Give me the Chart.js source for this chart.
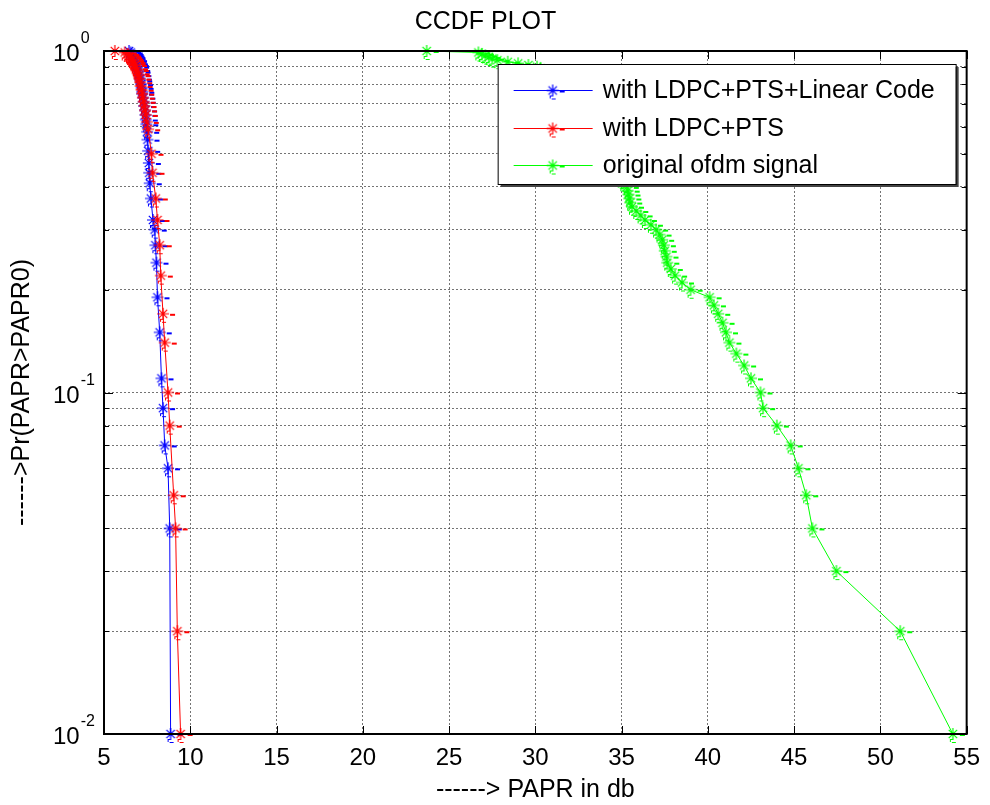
<!DOCTYPE html>
<html>
<head>
<meta charset="utf-8">
<script src="https://cdn.jsdelivr.net/npm/chart.js@4.4.0/dist/chart.umd.min.js"></script>
<style>
  html, body { margin: 0; padding: 0; background: #fff; }
  #c { display: block; }
</style>
</head>
<body>
<canvas id="c" width="990" height="805"></canvas>
<script>
const FONT = "'Liberation Sans', Arial, Helvetica, sans-serif";

const xTicks = [5, 10, 15, 20, 25, 30, 35, 40, 45, 50, 55];
const yTicks = [0.01, 0.02, 0.03, 0.04, 0.05, 0.06, 0.07, 0.08, 0.09,
                0.1, 0.2, 0.3, 0.4, 0.5, 0.6, 0.7, 0.8, 0.9, 1];
const yMajor = [1, 0.1, 0.01];
const yMajorExp = ['0', '-1', '-2'];

const labels = ['with LDPC+PTS+Linear Code', 'with LDPC+PTS', 'original ofdm signal'];

// with LDPC+PTS+Linear Code
const blueX = [6.45, 6.55, 6.60, 6.65, 6.70, 6.72, 6.80, 6.78, 6.85, 6.90,
               6.92, 6.98, 7.00, 7.05, 7.08, 7.10, 7.15, 7.18, 7.22, 7.20,
               7.28, 7.30, 7.32, 7.38, 7.40, 7.42, 7.45, 7.50, 7.52, 7.56,
               7.60, 7.62, 7.65, 7.72, 7.84, 7.94, 7.98, 8.04, 8.10, 8.23,
               8.33, 8.42, 8.52, 8.71, 8.81, 8.86];
const blueY = [1.00, 0.99, 0.98, 0.97, 0.96, 0.95, 0.94, 0.93, 0.92, 0.91,
               0.90, 0.88, 0.87, 0.85, 0.83, 0.82, 0.80, 0.78, 0.76, 0.75,
               0.73, 0.71, 0.69, 0.67, 0.65, 0.63, 0.61, 0.58, 0.55, 0.51,
               0.47, 0.44, 0.41, 0.37, 0.32, 0.30, 0.27, 0.24, 0.19, 0.15,
               0.11, 0.09, 0.07, 0.06, 0.04, 0.01];

// with LDPC+PTS
const redX = [5.63, 6.20, 6.35, 6.45, 6.50, 6.58, 6.62, 6.70, 6.72, 6.80,
              6.85, 6.90, 6.95, 7.00, 7.05, 7.10, 7.12, 7.18, 7.22, 7.25,
              7.30, 7.35, 7.38, 7.42, 7.48, 7.56, 7.75, 7.81, 8.00, 8.10,
              8.23, 8.29, 8.42, 8.52, 8.71, 8.81, 9.04, 9.15, 9.25, 9.44];
const redY = [1.00, 0.99, 0.98, 0.97, 0.96, 0.95, 0.94, 0.93, 0.92, 0.91,
              0.89, 0.88, 0.86, 0.85, 0.83, 0.81, 0.79, 0.77, 0.75, 0.73,
              0.71, 0.69, 0.67, 0.65, 0.62, 0.59, 0.50, 0.44, 0.37, 0.32,
              0.27, 0.22, 0.17, 0.14, 0.10, 0.08, 0.05, 0.04, 0.02, 0.01];

// original ofdm signal
const greenX = [23.7, 26.7, 26.9, 27.1, 27.3, 27.5, 27.8, 28.4, 29.0, 29.6,
                30.1, 30.3, 30.4, 30.6, 30.7, 30.8, 30.9, 31.0, 31.1, 31.2,
                31.3, 31.4, 31.5, 31.6, 31.7, 31.8, 31.9, 32.0, 32.1, 32.2,
                32.3, 32.4, 32.5, 32.6, 32.7, 32.75, 32.85, 32.95, 33.0, 33.1,
                33.2, 33.3, 33.35, 33.45, 33.55, 33.6, 33.7, 33.8, 33.85, 33.95,
                34.05, 34.1, 34.2, 34.3, 34.4, 34.5, 34.65, 34.8, 34.95, 35.1,
                35.3, 35.35, 35.4, 35.45, 35.5, 35.6, 35.85, 36.1, 36.35, 36.7,
                37.0, 37.2, 37.35, 37.45, 37.5, 37.6, 37.65, 37.85, 38.1, 38.5,
                39.0, 40.1, 40.35, 40.6, 40.85, 41.05, 41.25, 41.65, 42.1, 42.5,
                43.05, 43.2, 44.0, 44.8, 45.25, 45.7, 46.06, 47.45, 51.15, 54.2];
const greenY = [1.00, 0.99, 0.98, 0.97, 0.96, 0.95, 0.94, 0.93, 0.92, 0.91,
                0.90, 0.89, 0.88, 0.87, 0.86, 0.85, 0.84, 0.83, 0.82, 0.81,
                0.80, 0.79, 0.78, 0.77, 0.76, 0.75, 0.74, 0.73, 0.72, 0.71,
                0.70, 0.69, 0.68, 0.67, 0.66, 0.65, 0.64, 0.63, 0.62, 0.61,
                0.60, 0.59, 0.58, 0.57, 0.56, 0.55, 0.54, 0.53, 0.52, 0.51,
                0.50, 0.49, 0.48, 0.47, 0.46, 0.45, 0.44, 0.43, 0.42, 0.41,
                0.40, 0.39, 0.38, 0.37, 0.36, 0.35, 0.34, 0.33, 0.32, 0.31,
                0.30, 0.29, 0.28, 0.27, 0.26, 0.25, 0.24, 0.23, 0.22, 0.21,
                0.20, 0.19, 0.18, 0.17, 0.16, 0.15, 0.14, 0.13, 0.12, 0.11,
                0.10, 0.09, 0.08, 0.07, 0.06, 0.05, 0.04, 0.03, 0.02, 0.01];

// matlab style '*' marker with the little dash artefacts
function makeMarker(color) {
    const c = document.createElement('canvas');
    c.width = 30; c.height = 30;
    const g = c.getContext('2d');
    g.strokeStyle = color;
    g.lineWidth = 1.2;
    g.translate(15, 15);
    g.beginPath();
    g.moveTo(0, -6); g.lineTo(0, 6);
    g.moveTo(-6, 0); g.lineTo(6, 0);
    g.moveTo(-4.2, -4.2); g.lineTo(4.2, 4.2);
    g.moveTo(-4.2, 4.2); g.lineTo(4.2, -4.2);
    g.stroke();
    g.fillStyle = color;
    g.fillRect(7, 0, 5, 2);
    g.fillRect(-3, 5, 3, 1);
    g.fillRect(-3, 5, 1, 3);
    g.fillRect(-1, 8, 4, 1);
    return c;
}

function series(xs, ys) {
    return xs.map((x, i) => ({ x, y: ys[i] }));
}

const colors = ['#0000ff', '#ff0000', '#00ff00'];
const markers = colors.map(makeMarker);

const frame = {
    id: 'frame',
    afterDraw(chart) {
        const { ctx, chartArea: a, scales: { x, y } } = chart;
        ctx.save();

        // inward ticks on all four sides
        ctx.strokeStyle = '#000';
        ctx.lineWidth = 1;
        ctx.beginPath();
        xTicks.forEach(v => {
            const px = Math.round(x.getPixelForValue(v)) + 0.5;
            ctx.moveTo(px, a.top); ctx.lineTo(px, a.top + 8);
            ctx.moveTo(px, a.bottom); ctx.lineTo(px, a.bottom - 8);
        });
        yTicks.forEach(v => {
            const len = yMajor.includes(v) ? 9 : 5;
            const py = Math.round(y.getPixelForValue(v)) + 0.5;
            ctx.moveTo(a.left, py); ctx.lineTo(a.left + len, py);
            ctx.moveTo(a.right, py); ctx.lineTo(a.right - len, py);
        });
        ctx.stroke();

        ctx.lineWidth = 2;
        ctx.strokeRect(a.left, a.top, a.right - a.left, a.bottom - a.top);

        // 10^k labels
        ctx.fillStyle = '#000';
        ctx.textAlign = 'left';
        ctx.textBaseline = 'alphabetic';
        yMajor.forEach((v, i) => {
            const py = y.getPixelForValue(v);
            ctx.font = '24px ' + FONT;
            ctx.fillText('10', 53, py + 10);
            const w = ctx.measureText('10').width;
            ctx.font = '16px ' + FONT;
            ctx.fillText(yMajorExp[i], 53 + w + 1, py - 8);
        });

        // legend box
        const bw = 458, bh = 120;
        const bx = a.right - 11 - bw, by = a.top + 13;
        ctx.fillStyle = '#444';
        ctx.fillRect(bx + 3, by + 3, bw, bh);
        ctx.fillStyle = '#fff';
        ctx.fillRect(bx, by, bw, bh);
        ctx.lineWidth = 1;
        ctx.strokeStyle = '#000';
        ctx.strokeRect(bx + 0.5, by + 0.5, bw, bh);

        ctx.font = '25px ' + FONT;
        ctx.textBaseline = 'middle';
        chart.data.datasets.forEach((ds, i) => {
            const ry = Math.round(by + 26 + i * 37.5) + 0.5;
            ctx.strokeStyle = ds.borderColor;
            ctx.beginPath();
            ctx.moveTo(bx + 16, ry); ctx.lineTo(bx + 95, ry);
            ctx.stroke();
            const m = markers[i];
            ctx.drawImage(m, bx + 55 - m.width / 2, ry - m.height / 2);
            ctx.fillStyle = '#000';
            ctx.fillText(ds.label, bx + 105, ry + 1);
        });

        ctx.restore();
    }
};

const gridStyle = { color: 'rgba(70,70,70,0.75)', lineWidth: 1, drawTicks: false };

new Chart(document.getElementById('c'), {
    type: 'line',
    data: {
        datasets: [
            { label: labels[0], data: series(blueX, blueY), order: 2 },
            { label: labels[1], data: series(redX, redY), order: 1 },
            { label: labels[2], data: series(greenX, greenY), order: 0 }
        ].map((ds, i) => Object.assign(ds, {
            borderColor: colors[i],
            backgroundColor: colors[i],
            borderWidth: 1,
            pointStyle: markers[i],
            pointRadius: 6,
            fill: false,
            tension: 0,
            clip: false
        }))
    },
    options: {
        responsive: false,
        animation: false,
        events: [],
        layout: { padding: { left: 0, right: 19, top: 0, bottom: 0 } },
        plugins: {
            legend: { display: false },
            tooltip: { enabled: false },
            title: {
                display: true,
                text: 'CCDF PLOT',
                color: '#000',
                font: { family: FONT, size: 25, weight: 'normal' },
                padding: { top: 7, bottom: 14 }
            }
        },
        scales: {
            x: {
                type: 'linear',
                min: 5,
                max: 55,
                afterBuildTicks: s => { s.ticks = xTicks.map(v => ({ value: v })); },
                afterFit: s => { s.height = 71; },
                grid: gridStyle,
                border: { display: false, dash: [2, 2] },
                ticks: { color: '#000', padding: 10, font: { family: FONT, size: 24 } },
                title: {
                    display: true,
                    text: '------> PAPR in db',
                    color: '#000',
                    font: { family: FONT, size: 25 },
                    padding: { top: 0, bottom: 0 }
                }
            },
            y: {
                type: 'logarithmic',
                min: 0.01,
                max: 1,
                afterBuildTicks: s => { s.ticks = yTicks.map(v => ({ value: v })); },
                afterFit: s => { s.width = 104; },
                grid: gridStyle,
                border: { display: false, dash: [2, 2] },
                ticks: { display: false },
                title: {
                    display: true,
                    text: '------>Pr(PAPR>PAPR0)',
                    color: '#000',
                    font: { family: FONT, size: 25 },
                    padding: { top: 7, bottom: 0 }
                }
            }
        }
    },
    plugins: [frame]
});
</script>
</body>
</html>
